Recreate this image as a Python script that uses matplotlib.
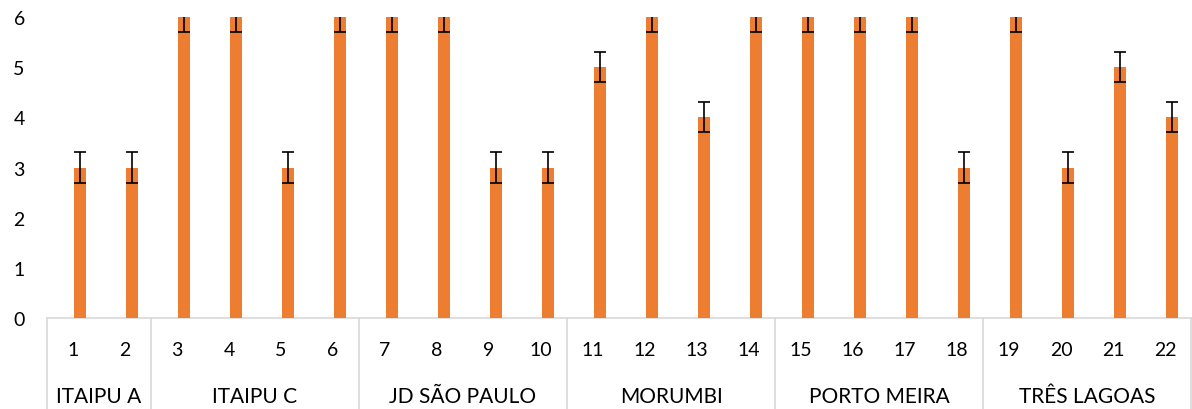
import matplotlib
matplotlib.use("Agg")
import matplotlib.pyplot as plt
from matplotlib.transforms import blended_transform_factory

samples = [str(i) for i in range(1, 23)]
values = [3, 3, 6, 6, 3, 6, 6, 6, 3, 3, 5, 6, 4, 6, 6, 6, 6, 3, 6, 3, 5, 4]
errors = [0.3] * 22
groups = ["ITAIPU A", "ITAIPU C", "JD SÃO PAULO", "MORUMBI", "PORTO MEIRA", "TRÊS LAGOAS"]
group_sizes = [2, 4, 4, 4, 4, 4]
yticks = [0, 1, 2, 3, 4, 5, 6]

plt.rcParams['font.family'] = ['Lato', 'DejaVu Sans']

fig = plt.figure(figsize=(11.92, 4.10), dpi=100)
ax = fig.add_axes([47/1192, 91/410, 1144/1192, 301/410])

x = list(range(len(samples)))
offset = 0.135  # bars sit right of the category centre (empty companion series)
xb = [xi + offset for xi in x]
ax.bar(xb, values, width=0.23, color='#ED7D31', zorder=2)
ax.errorbar(xb, values, yerr=errors, fmt='none', ecolor='black', elinewidth=1.2,
            capsize=4.5, capthick=1.2, zorder=3)

ax.set_xlim(-0.5, len(samples) - 0.5)
ax.set_ylim(0, 6)
ax.set_yticks(yticks)
ax.set_yticklabels([str(t) for t in yticks], fontsize=14)
ax.tick_params(axis='y', length=0, pad=16)
ax.set_xticks([])
for s in ax.spines.values():
    s.set_visible(False)

trans = blended_transform_factory(ax.transData, ax.transAxes)
line_c = '#D9D9D9'
ax.plot([-0.5, len(samples) - 0.5], [0, 0], transform=trans, color=line_c, lw=1.2, clip_on=False, zorder=1)
for xi, s in zip(x, samples):
    ax.text(xi, -0.103, s, transform=trans, ha='center', va='center', fontsize=14)
start = 0
bounds = [-0.5]
for g, n in zip(groups, group_sizes):
    center = start + (n - 1) / 2
    ax.text(center, -0.259, g, transform=trans, ha='center', va='center', fontsize=15)
    start += n
    bounds.append(start - 0.5)
for b in bounds:
    ax.plot([b, b], [0, -0.31], transform=trans, color=line_c, lw=1.2, clip_on=False)

fig.savefig('out.png', dpi=100)
